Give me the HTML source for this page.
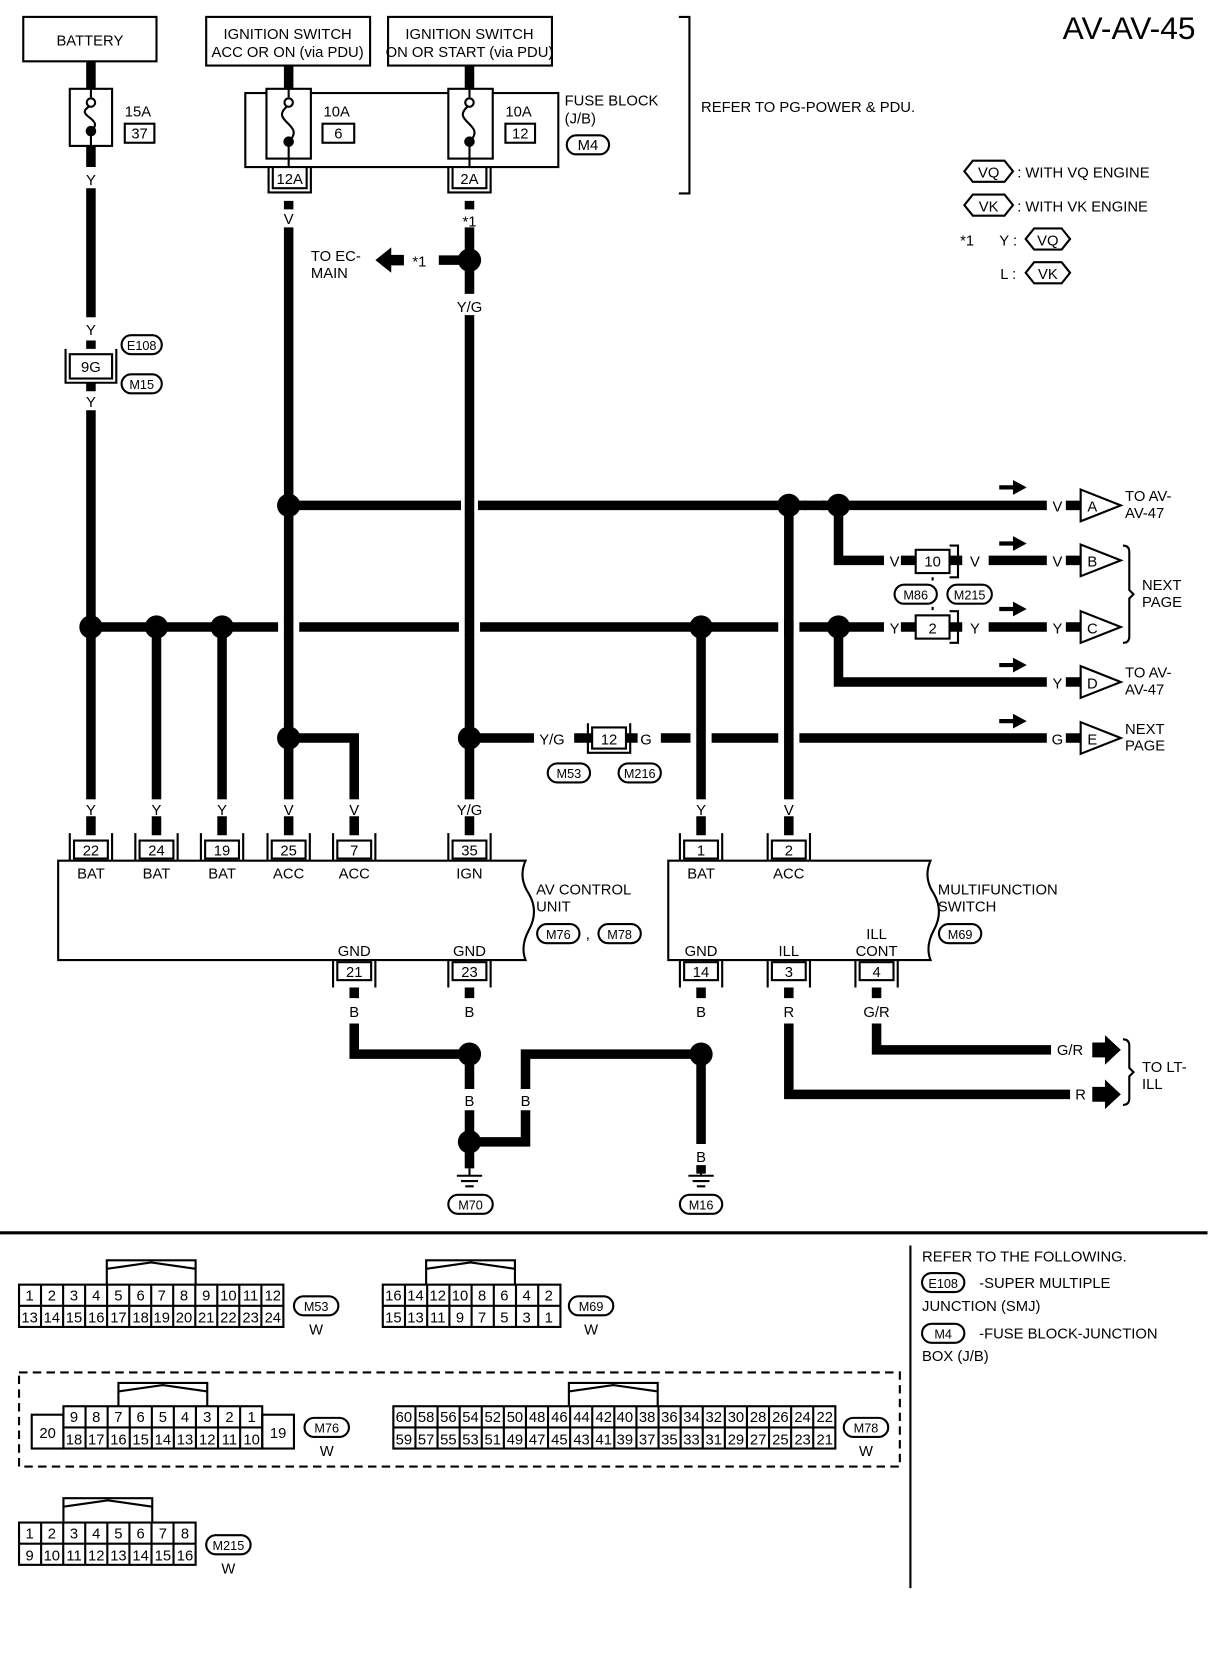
<!DOCTYPE html>
<html><head><meta charset="utf-8"><style>
html,body{margin:0;padding:0;background:#fff;}
svg{display:block;}
text{font-family:"Liberation Sans",sans-serif;font-size:14px;fill:#000;}
.m{text-anchor:middle;}
.w{stroke:#000;stroke-width:9;fill:none;}
.t{stroke:#000;stroke-width:2;fill:none;}
.tw{stroke:#000;stroke-width:2;fill:#fff;}
.g{stroke:#fff;stroke-width:14;}
.s{font-size:12px;}
</style></head><body>
<svg width="1216" height="1660" viewBox="0 0 1150 1570" preserveAspectRatio="none" xmlns="http://www.w3.org/2000/svg">
<rect x="22" y="16" width="126" height="42" class="t"/>
<text x="85" y="43" class="m">BATTERY</text>
<rect x="195" y="16" width="155" height="46" class="t"/>
<text x="272" y="37" class="m" font-size="13">IGNITION SWITCH</text>
<text x="272" y="54" class="m" font-size="13">ACC OR ON (via PDU)</text>
<rect x="367" y="16" width="155" height="46" class="t"/>
<text x="444" y="37" class="m" font-size="13">IGNITION SWITCH</text>
<text x="444" y="54" class="m" font-size="12.5">ON OR START (via PDU)</text>
<path d="M642 16H652V183H642" class="t"/>
<text x="1005" y="37" style="font-size:30px">AV-AV-45</text>
<text x="663" y="106">REFER TO PG-POWER &amp; PDU.</text>

<rect x="232" y="88" width="296" height="70" class="t"/>
<path d="M86 58V84 M86 138V158 M273 62V88 M444 62V88" class="w"/>
<path d="M273 88V158 M444 88V158" class="t"/>
<g>
<rect x="66" y="84" width="40" height="54" class="tw"/>
<rect x="252" y="84" width="42" height="66" class="tw"/>
<rect x="424" y="84" width="42" height="66" class="tw"/>
</g>
<g fill="none" stroke="#000" stroke-width="2">
<path d="M86 84V92 M86 124V138"/>
<circle cx="86" cy="97" r="4" fill="#fff"/>
<path d="M84 101C70 110 100 112 86 124"/>
<path d="M273 84V92 M273 136V150"/>
<circle cx="273" cy="97" r="4" fill="#fff"/>
<path d="M271 101C255 115 290 118 273 134"/>
<path d="M444 84V92 M444 136V150"/>
<circle cx="444" cy="97" r="4" fill="#fff"/>
<path d="M442 101C426 115 461 118 444 134"/>
</g>
<circle cx="86" cy="124" r="5"/><circle cx="273" cy="134" r="5"/><circle cx="444" cy="134" r="5"/>
<text x="118" y="110">15A</text><rect x="118" y="117" width="28" height="18" class="t"/><text x="132" y="131" class="m">37</text>
<text x="306" y="110">10A</text><rect x="305" y="117" width="30" height="18" class="t"/><text x="320" y="131" class="m">6</text>
<text x="478" y="110">10A</text><rect x="478" y="117" width="28" height="18" class="t"/><text x="492" y="131" class="m">12</text>
<text x="534" y="100">FUSE BLOCK</text><text x="534" y="117">(J/B)</text>
<rect x="536" y="128" width="40" height="18" rx="9" class="t"/><text x="556" y="142" class="m">M4</text>
<rect x="258" y="158" width="32" height="20" class="tw"/><path d="M254 158V182H294V158" class="t"/><text x="274" y="174" class="m">12A</text>
<rect x="428" y="158" width="32" height="20" class="tw"/><path d="M424 158V182H464V158" class="t"/><text x="444" y="174" class="m">2A</text>

<g class="t">
<path d="M912 162L920 152H950L958 162L950 172H920Z"/>
<path d="M912 194L920 184H950L958 194L950 204H920Z"/>
<path d="M970 226L978 216H1004L1012 226L1004 236H978Z"/>
<path d="M970 258L978 248H1004L1012 258L1004 268H978Z"/>
</g>
<text x="935" y="168" class="m">VQ</text><text x="962" y="168">: WITH VQ ENGINE</text>
<text x="935" y="200" class="m">VK</text><text x="962" y="200">: WITH VK ENGINE</text>
<text x="908" y="232">*1</text><text x="945" y="232">Y :</text><text x="991" y="232" class="m">VQ</text>
<text x="946" y="264">L :</text><text x="991" y="264" class="m">VK</text>

<path d="M86 178V300 M86 388V790" class="w"/>
<text x="86" y="175" class="m">Y</text>
<text x="86" y="317" class="m">Y</text>
<rect x="66" y="335" width="40" height="23" class="tw"/><path d="M62 330V362H110V330" class="t"/><text x="86" y="352" class="m">9G</text>
<path d="M86 322V330 M86 362V370" class="w"/>
<text x="86" y="385" class="m">Y</text>
<rect x="115" y="317" width="38" height="18" rx="9" class="t"/><text x="134" y="331" class="m s">E108</text>
<rect x="115" y="354" width="38" height="18" rx="9" class="t"/><text x="134" y="368" class="m s">M15</text>

<path d="M273 190V198 M273 215V790" class="w"/>
<text x="273" y="212" class="m">V</text>
<path d="M444 190V198 M444 215V278 M444 298V790" class="w"/>
<text x="444" y="214" class="m">*1</text>
<text x="444" y="295" class="m">Y/G</text>
<path d="M415 246H436" class="w"/>
<text x="390" y="252">*1</text>
<path d="M355 246L370 234V241H382V251H370V258Z"/>
<text x="294" y="247">TO EC-</text><text x="294" y="263">MAIN</text>
<circle cx="444" cy="246" r="11"/>

<path d="M273 478H990" class="w"/>
<path d="M436 478H452 M763 478H777" class="g"/>
<path d="M444 470V486" class="w"/>
<path d="M760 478H780" class="w"/>
<circle cx="273" cy="478" r="11"/><circle cx="746" cy="478" r="11"/><circle cx="793" cy="478" r="11"/>
<path d="M793 478V530H836 M935 530H990" class="w"/>
<path d="M852 530H866 M898 530H910" class="w"/>
<text x="846" y="536" class="m">V</text><text x="922" y="536" class="m">V</text>
<rect x="866" y="520" width="32" height="22" class="tw"/><path d="M898 516H906V546H898" class="t"/><text x="882" y="536" class="m">10</text>
<path d="M882 546V552 M882 574V580" class="t" stroke-dasharray="3,3"/>
<rect x="846" y="553" width="40" height="18" rx="9" class="t"/><text x="866" y="567" class="m s">M86</text>
<rect x="896" y="553" width="42" height="18" rx="9" class="t"/><text x="917" y="567" class="m s">M215</text>

<path d="M86 593H836" class="w"/>
<path d="M263 593H283 M434 593H454 M736 593H756" class="g"/>
<path d="M273 585V601 M444 585V601 M746 585V601" class="w"/>
<circle cx="86" cy="593" r="11"/><circle cx="148" cy="593" r="11"/><circle cx="210" cy="593" r="11"/><circle cx="663" cy="593" r="11"/><circle cx="793" cy="593" r="11"/>
<path d="M836 593H860" class="g"/>
<path d="M852 593H866 M898 593H910 M935 593H990" class="w"/>
<text x="846" y="599" class="m">Y</text><text x="922" y="599" class="m">Y</text>
<rect x="866" y="582" width="32" height="22" class="tw"/><path d="M898 578H906V608H898" class="t"/><text x="882" y="599" class="m">2</text>
<path d="M148 593V790 M210 593V790 M663 593V790 M746 478V790" class="w"/>
<path d="M793 593V645H990" class="w"/>

<path d="M273 698H335V790" class="w"/>
<path d="M444 698H505" class="w"/>
<text x="522" y="704" class="m">Y/G</text>
<path d="M543 698H560 M592 698H603" class="w"/>
<rect x="560" y="688" width="32" height="20" class="tw"/><path d="M556 684V712H596V684" class="t"/><text x="576" y="704" class="m">12</text>
<text x="611" y="704" class="m">G</text>
<path d="M625 698H990" class="w"/>
<path d="M653 698H673 M736 698H756" class="g"/>
<path d="M663 690V706 M746 690V706" class="w"/>
<circle cx="273" cy="698" r="11"/><circle cx="444" cy="698" r="11"/>
<rect x="518" y="722" width="40" height="18" rx="9" class="t"/><text x="538" y="736" class="m s">M53</text>
<rect x="585" y="722" width="40" height="18" rx="9" class="t"/><text x="605" y="736" class="m s">M216</text>

<g>
<text x="1000" y="484" class="m">V</text><path d="M1008 478H1022" class="w"/>
<path d="M1022 463V493L1060 478Z" class="tw"/><text x="1033" y="484" class="m">A</text>
<text x="1064" y="474">TO AV-</text><text x="1064" y="490">AV-47</text>
<text x="1000" y="536" class="m">V</text><path d="M1008 530H1022" class="w"/>
<path d="M1022 515V545L1060 530Z" class="tw"/><text x="1033" y="536" class="m">B</text>
<text x="1000" y="599" class="m">Y</text><path d="M1008 593H1022" class="w"/>
<path d="M1022 578V608L1060 593Z" class="tw"/><text x="1033" y="599" class="m">C</text>
<text x="1000" y="651" class="m">Y</text><path d="M1008 645H1022" class="w"/>
<path d="M1022 630V660L1060 645Z" class="tw"/><text x="1033" y="651" class="m">D</text>
<text x="1064" y="641">TO AV-</text><text x="1064" y="657">AV-47</text>
<text x="1000" y="704" class="m">G</text><path d="M1008 698H1022" class="w"/>
<path d="M1022 683V713L1060 698Z" class="tw"/><text x="1033" y="704" class="m">E</text>
<text x="1064" y="694">NEXT</text><text x="1064" y="710">PAGE</text>
<path d="M1062 516Q1068 516 1068 522V558L1072 562L1068 566V602Q1068 608 1062 608" class="t"/>
<text x="1080" y="558">NEXT</text><text x="1080" y="574">PAGE</text>
</g>
<g>
<path d="M945 459H958V454L971 461L958 468V463H945Z"/>
<path d="M945 512H958V507L971 514L958 521V516H945Z"/>
<path d="M945 574H958V569L971 576L958 583V578H945Z"/>
<path d="M945 627H958V622L971 629L958 636V631H945Z"/>
<path d="M945 680H958V675L971 682L958 689V684H945Z"/>
</g>

<g fill="#fff"><rect x="76" y="756" width="20" height="16"/><rect x="138" y="756" width="20" height="16"/><rect x="200" y="756" width="20" height="16"/><rect x="263" y="756" width="20" height="16"/><rect x="325" y="756" width="20" height="16"/><rect x="430" y="756" width="28" height="16"/><rect x="653" y="756" width="20" height="16"/><rect x="736" y="756" width="20" height="16"/></g>
<text x="86" y="771" class="m">Y</text><text x="148" y="771" class="m">Y</text><text x="210" y="771" class="m">Y</text><text x="273" y="771" class="m">V</text><text x="335" y="771" class="m">V</text><text x="444" y="771" class="m">Y/G</text><text x="663" y="771" class="m">Y</text><text x="746" y="771" class="m">V</text>

<path d="M55 814H497Q490 830 500 845Q510 862 500 880Q492 895 497 908H55Z" class="t"/>
<path d="M632 814H880Q873 830 883 845Q893 862 883 880Q875 895 880 908H632Z" class="t"/>
<g>
<g class="t">
<path d="M66 788V814M106 788V814"/><rect x="70" y="795" width="32" height="17" fill="#fff"/>
<path d="M128 788V814M168 788V814"/><rect x="132" y="795" width="32" height="17" fill="#fff"/>
<path d="M190 788V814M230 788V814"/><rect x="194" y="795" width="32" height="17" fill="#fff"/>
<path d="M253 788V814M293 788V814"/><rect x="257" y="795" width="32" height="17" fill="#fff"/>
<path d="M315 788V814M355 788V814"/><rect x="319" y="795" width="32" height="17" fill="#fff"/>
<path d="M424 788V814M464 788V814"/><rect x="428" y="795" width="32" height="17" fill="#fff"/>
<path d="M643 788V814M683 788V814"/><rect x="647" y="795" width="32" height="17" fill="#fff"/>
<path d="M726 788V814M766 788V814"/><rect x="730" y="795" width="32" height="17" fill="#fff"/>
<path d="M315 908V934M355 908V934"/><rect x="319" y="910" width="32" height="17" fill="#fff"/>
<path d="M424 908V934M464 908V934"/><rect x="428" y="910" width="32" height="17" fill="#fff"/>
<path d="M643 908V934M683 908V934"/><rect x="647" y="910" width="32" height="17" fill="#fff"/>
<path d="M726 908V934M766 908V934"/><rect x="730" y="910" width="32" height="17" fill="#fff"/>
<path d="M809 908V934M849 908V934"/><rect x="813" y="910" width="32" height="17" fill="#fff"/>
</g>
<text x="86" y="809" class="m">22</text><text x="148" y="809" class="m">24</text><text x="210" y="809" class="m">19</text><text x="273" y="809" class="m">25</text><text x="335" y="809" class="m">7</text><text x="444" y="809" class="m">35</text><text x="663" y="809" class="m">1</text><text x="746" y="809" class="m">2</text>
<text x="335" y="924" class="m">21</text><text x="444" y="924" class="m">23</text><text x="663" y="924" class="m">14</text><text x="746" y="924" class="m">3</text><text x="829" y="924" class="m">4</text>
</g>
<text x="86" y="831" class="m">BAT</text><text x="148" y="831" class="m">BAT</text><text x="210" y="831" class="m">BAT</text><text x="273" y="831" class="m">ACC</text><text x="335" y="831" class="m">ACC</text><text x="444" y="831" class="m">IGN</text>
<text x="663" y="831" class="m">BAT</text><text x="746" y="831" class="m">ACC</text>
<text x="335" y="904" class="m">GND</text><text x="444" y="904" class="m">GND</text>
<text x="663" y="904" class="m">GND</text><text x="746" y="904" class="m">ILL</text><text x="829" y="888" class="m">ILL</text><text x="829" y="904" class="m">CONT</text>
<text x="507" y="846">AV CONTROL</text><text x="507" y="862">UNIT</text>
<rect x="508" y="874" width="40" height="18" rx="9" class="t"/><text x="528" y="888" class="m s">M76</text>
<text x="554" y="888">,</text>
<rect x="566" y="874" width="40" height="18" rx="9" class="t"/><text x="586" y="888" class="m s">M78</text>
<text x="887" y="846">MULTIFUNCTION</text><text x="887" y="862">SWITCH</text>
<rect x="888" y="874" width="40" height="18" rx="9" class="t"/><text x="908" y="888" class="m s">M69</text>

<path d="M335 934V944 M444 934V944 M663 934V944 M746 934V944 M829 934V944" class="w"/>
<text x="335" y="962" class="m">B</text><text x="444" y="962" class="m">B</text><text x="663" y="962" class="m">B</text><text x="746" y="962" class="m">R</text><text x="829" y="962" class="m">G/R</text>
<path d="M335 968V997H444V1030 M444 1050V1080H497V1050 M497 1030V997H663V1082 M663 1102V1110" class="w"/>
<circle cx="444" cy="997" r="11"/><circle cx="663" cy="997" r="11"/><circle cx="444" cy="1080" r="11"/>
<text x="444" y="1046" class="m">B</text><text x="497" y="1046" class="m">B</text><text x="663" y="1099" class="m">B</text>
<path d="M444 1080V1105" class="w"/>
<g class="t"><path d="M444 1105V1112M432 1112H456M436 1117H452M440 1122H448"/><path d="M663 1108V1112M651 1112H675M655 1117H671M659 1122H667"/></g>
<rect x="424" y="1130" width="42" height="18" rx="9" class="t"/><text x="445" y="1144" class="m s">M70</text>
<rect x="643" y="1130" width="40" height="18" rx="9" class="t"/><text x="663" y="1144" class="m s">M16</text>
<path d="M829 968V993H994 M746 968V1035H1012" class="w"/>
<text x="1012" y="998" class="m">G/R</text><text x="1022" y="1040" class="m">R</text>
<path d="M1033 986H1045V979L1060 993L1045 1007V1000H1033Z"/>
<path d="M1033 1028H1045V1021L1060 1035L1045 1049V1042H1033Z"/>
<path d="M1062 983Q1068 983 1068 989V1010L1072 1014L1068 1018V1039Q1068 1045 1062 1045" class="t"/>
<text x="1080" y="1014">TO LT-</text><text x="1080" y="1030">ILL</text>

<line x1="0" y1="1166" x2="1142" y2="1166" stroke="#000" stroke-width="3"/>
<line x1="861" y1="1178" x2="861" y2="1502" stroke="#000" stroke-width="2"/>
<text x="872" y="1193">REFER TO THE FOLLOWING.</text>
<rect x="872" y="1204" width="40" height="18" rx="9" class="t"/><text x="892" y="1218" class="m s">E108</text>
<text x="926" y="1218">-SUPER MULTIPLE</text><text x="872" y="1240">JUNCTION (SMJ)</text>
<rect x="872" y="1252" width="40" height="18" rx="9" class="t"/><text x="892" y="1266" class="m s">M4</text>
<text x="926" y="1266">-FUSE BLOCK-JUNCTION</text><text x="872" y="1287">BOX (J/B)</text>

<g font-size="13">
<path d="M101 1215V1192H185V1215 M101 1200L143 1194L185 1200" class="t"/>
<rect x="18" y="1215" width="250" height="40" class="t"/><line x1="18" y1="1235" x2="268" y2="1235" class="t"/>
<path d="M38.8 1215V1255M59.7 1215V1255M80.5 1215V1255M101.3 1215V1255M122.2 1215V1255M143 1215V1255M163.8 1215V1255M184.7 1215V1255M205.5 1215V1255M226.3 1215V1255M247.2 1215V1255" class="t" stroke-width="1.5"/>
<g class="m">
<text x="28" y="1230">1</text><text x="49" y="1230">2</text><text x="70" y="1230">3</text><text x="91" y="1230">4</text><text x="112" y="1230">5</text><text x="133" y="1230">6</text><text x="153" y="1230">7</text><text x="174" y="1230">8</text><text x="195" y="1230">9</text><text x="216" y="1230">10</text><text x="237" y="1230">11</text><text x="258" y="1230">12</text>
<text x="28" y="1251">13</text><text x="49" y="1251">14</text><text x="70" y="1251">15</text><text x="91" y="1251">16</text><text x="112" y="1251">17</text><text x="133" y="1251">18</text><text x="153" y="1251">19</text><text x="174" y="1251">20</text><text x="195" y="1251">21</text><text x="216" y="1251">22</text><text x="237" y="1251">23</text><text x="258" y="1251">24</text>
</g>
<rect x="278" y="1226" width="42" height="18" rx="9" class="t"/><text x="299" y="1240" class="m s">M53</text><text x="299" y="1262" class="m">W</text>
<path d="M403 1215V1192H487V1215 M403 1200L445 1194L487 1200" class="t"/>
<rect x="362" y="1215" width="168" height="40" class="t"/><line x1="362" y1="1235" x2="530" y2="1235" class="t"/>
<path d="M383 1215V1255M404 1215V1255M425 1215V1255M446 1215V1255M467 1215V1255M488 1215V1255M509 1215V1255" class="t" stroke-width="1.5"/>
<g class="m">
<text x="372" y="1230">16</text><text x="393" y="1230">14</text><text x="414" y="1230">12</text><text x="435" y="1230">10</text><text x="456" y="1230">8</text><text x="477" y="1230">6</text><text x="498" y="1230">4</text><text x="519" y="1230">2</text>
<text x="372" y="1251">15</text><text x="393" y="1251">13</text><text x="414" y="1251">11</text><text x="435" y="1251">9</text><text x="456" y="1251">7</text><text x="477" y="1251">5</text><text x="498" y="1251">3</text><text x="519" y="1251">1</text>
</g>
<rect x="538" y="1226" width="42" height="18" rx="9" class="t"/><text x="559" y="1240" class="m s">M69</text><text x="559" y="1262" class="m">W</text>

<rect x="18" y="1298" width="833" height="89" fill="none" stroke="#000" stroke-width="2" stroke-dasharray="8,5"/>
<path d="M112 1330V1308H196V1330 M112 1316L154 1310L196 1316" class="t"/>
<rect x="30" y="1338" width="30" height="32" class="t"/><text x="45" y="1360" class="m">20</text>
<rect x="60" y="1330" width="188" height="40" class="t"/><line x1="60" y1="1350" x2="248" y2="1350" class="t"/>
<rect x="248" y="1338" width="30" height="32" class="t"/><text x="263" y="1360" class="m">19</text>
<path d="M80.9 1330V1370M101.8 1330V1370M122.7 1330V1370M143.6 1330V1370M164.4 1330V1370M185.3 1330V1370M206.2 1330V1370M227.1 1330V1370" class="t" stroke-width="1.5"/>
<g class="m">
<text x="70" y="1345">9</text><text x="91" y="1345">8</text><text x="112" y="1345">7</text><text x="133" y="1345">6</text><text x="154" y="1345">5</text><text x="175" y="1345">4</text><text x="196" y="1345">3</text><text x="217" y="1345">2</text><text x="238" y="1345">1</text>
<text x="70" y="1366">18</text><text x="91" y="1366">17</text><text x="112" y="1366">16</text><text x="133" y="1366">15</text><text x="154" y="1366">14</text><text x="175" y="1366">13</text><text x="196" y="1366">12</text><text x="217" y="1366">11</text><text x="238" y="1366">10</text>
</g>
<rect x="288" y="1341" width="42" height="18" rx="9" class="t"/><text x="309" y="1355" class="m s">M76</text><text x="309" y="1377" class="m">W</text>
<path d="M538 1330V1308H622V1330 M538 1316L580 1310L622 1316" class="t"/>
<rect x="372" y="1330" width="418" height="40" class="t"/><line x1="372" y1="1350" x2="790" y2="1350" class="t"/>
<path d="M392.9 1330V1370M413.8 1330V1370M434.7 1330V1370M455.6 1330V1370M476.5 1330V1370M497.4 1330V1370M518.3 1330V1370M539.2 1330V1370M560.1 1330V1370M581 1330V1370M601.9 1330V1370M622.8 1330V1370M643.7 1330V1370M664.6 1330V1370M685.5 1330V1370M706.4 1330V1370M727.3 1330V1370M748.2 1330V1370M769.1 1330V1370" class="t" stroke-width="1.5"/>
<g class="m" font-size="12">
<text x="382" y="1345">60</text><text x="403" y="1345">58</text><text x="424" y="1345">56</text><text x="445" y="1345">54</text><text x="466" y="1345">52</text><text x="487" y="1345">50</text><text x="508" y="1345">48</text><text x="529" y="1345">46</text><text x="550" y="1345">44</text><text x="571" y="1345">42</text><text x="591" y="1345">40</text><text x="612" y="1345">38</text><text x="633" y="1345">36</text><text x="654" y="1345">34</text><text x="675" y="1345">32</text><text x="696" y="1345">30</text><text x="717" y="1345">28</text><text x="738" y="1345">26</text><text x="759" y="1345">24</text><text x="780" y="1345">22</text>
<text x="382" y="1366">59</text><text x="403" y="1366">57</text><text x="424" y="1366">55</text><text x="445" y="1366">53</text><text x="466" y="1366">51</text><text x="487" y="1366">49</text><text x="508" y="1366">47</text><text x="529" y="1366">45</text><text x="550" y="1366">43</text><text x="571" y="1366">41</text><text x="591" y="1366">39</text><text x="612" y="1366">37</text><text x="633" y="1366">35</text><text x="654" y="1366">33</text><text x="675" y="1366">31</text><text x="696" y="1366">29</text><text x="717" y="1366">27</text><text x="738" y="1366">25</text><text x="759" y="1366">23</text><text x="780" y="1366">21</text>
</g>
<rect x="798" y="1341" width="42" height="18" rx="9" class="t"/><text x="819" y="1355" class="m s">M78</text><text x="819" y="1377" class="m">W</text>
<path d="M60 1440V1417H144V1440 M60 1425L102 1419L144 1425" class="t"/>
<rect x="18" y="1440" width="167" height="40" class="t"/><line x1="18" y1="1460" x2="185" y2="1460" class="t"/>
<path d="M38.9 1440V1480M59.8 1440V1480M80.6 1440V1480M101.5 1440V1480M122.4 1440V1480M143.3 1440V1480M164.1 1440V1480" class="t" stroke-width="1.5"/>
<g class="m">
<text x="28" y="1455">1</text><text x="49" y="1455">2</text><text x="70" y="1455">3</text><text x="91" y="1455">4</text><text x="112" y="1455">5</text><text x="133" y="1455">6</text><text x="154" y="1455">7</text><text x="175" y="1455">8</text>
<text x="28" y="1476">9</text><text x="49" y="1476">10</text><text x="70" y="1476">11</text><text x="91" y="1476">12</text><text x="112" y="1476">13</text><text x="133" y="1476">14</text><text x="154" y="1476">15</text><text x="175" y="1476">16</text>
</g>
<rect x="195" y="1452" width="42" height="18" rx="9" class="t"/><text x="216" y="1466" class="m s">M215</text><text x="216" y="1488" class="m">W</text>
</g>
</svg>
</body></html>
